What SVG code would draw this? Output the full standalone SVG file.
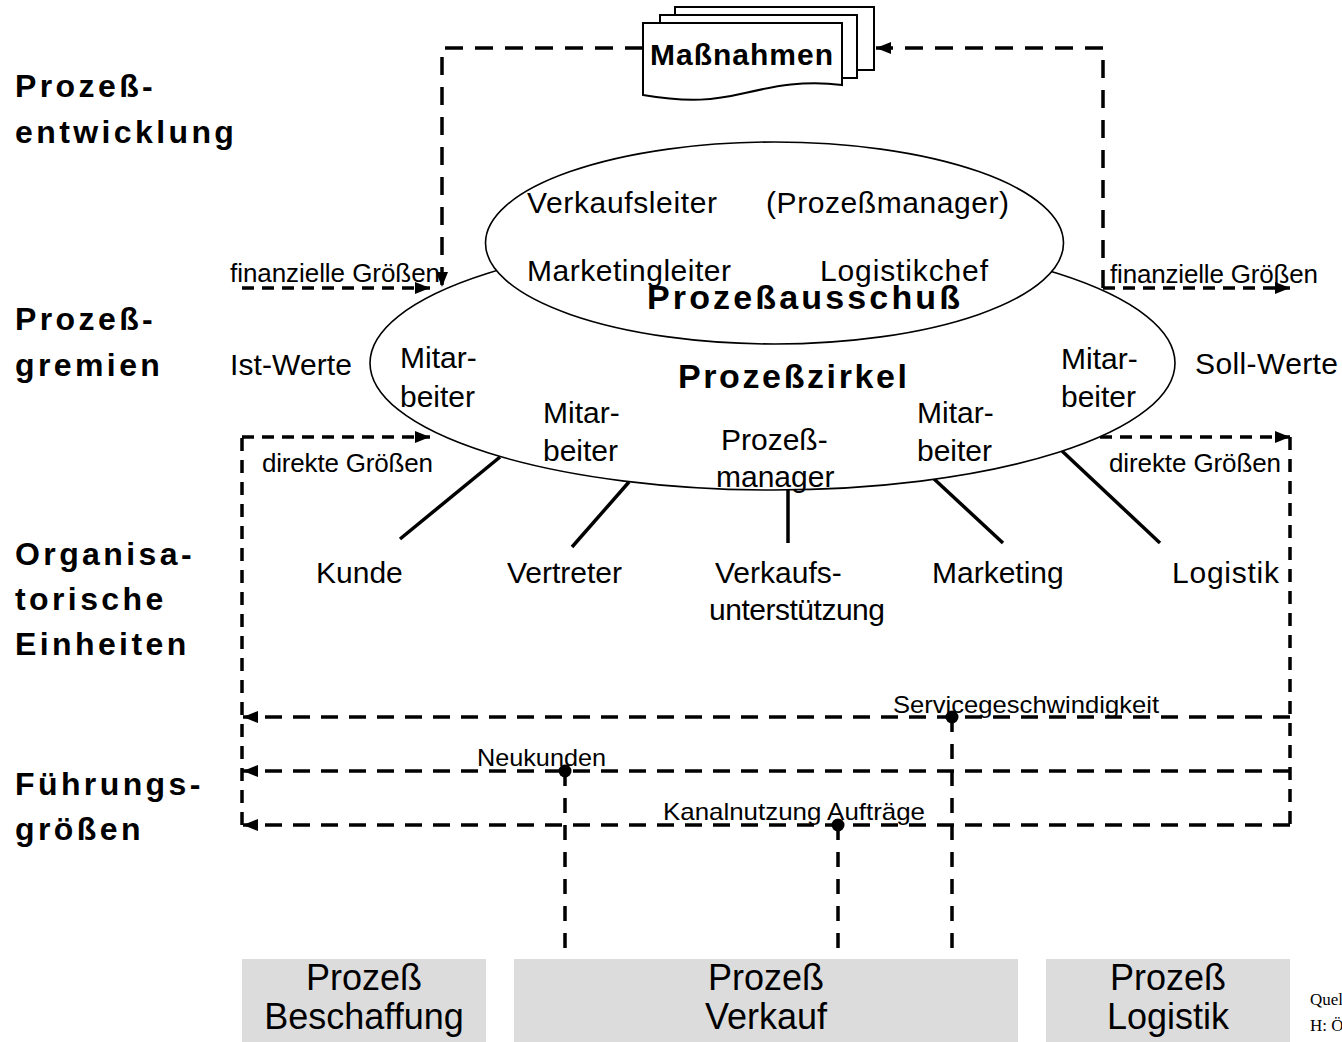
<svg xmlns="http://www.w3.org/2000/svg" width="1342" height="1042" viewBox="0 0 1342 1042">
<style>
text{font-family:"Liberation Sans",Arial,Helvetica,sans-serif;fill:#000}
.m{font-size:30px}
.s{font-size:26px}
.x{font-size:24px}
.b{font-size:30px;font-weight:bold}
.bb{font-size:34px;font-weight:bold}
.lb{font-size:32px;font-weight:bold;letter-spacing:3.4px}
.p{font-size:36px;text-anchor:middle}
.q{font-family:"Liberation Serif","Times New Roman",serif;font-size:17px}
.d1{fill:none;stroke:#000;stroke-width:3.5;stroke-dasharray:18 12}
.d2{fill:none;stroke:#000;stroke-width:3.5;stroke-dasharray:17 11}
.d3{fill:none;stroke:#000;stroke-width:3.5;stroke-dasharray:12 8}
.d4{fill:none;stroke:#000;stroke-width:3.5;stroke-dasharray:13 9}
.d5{fill:none;stroke:#000;stroke-width:3.5;stroke-dasharray:15 12}
.sl{fill:none;stroke:#000;stroke-width:3.5}
.el{fill:#fff;stroke:#000;stroke-width:1.6}
.sh{fill:#fff;stroke:#000;stroke-width:2}
.box{fill:#dcdcdc}
</style>
<defs>
<marker id="arr" viewBox="0 0 15 12" refX="15" refY="6" markerWidth="15" markerHeight="12" markerUnits="userSpaceOnUse" orient="auto">
<path d="M0,0 L15,6 L0,12 Z" fill="#000"/>
</marker>
</defs>

<g id="connectors">
<path class="d1" d="M643,48 H442 V287" marker-end="url(#arr)"/>
<path class="d1" d="M1103,288 V48 H876" marker-end="url(#arr)"/>
<path class="d3" d="M1103,288 H1290" marker-end="url(#arr)"/>
<path class="d3" d="M242,288 H430" marker-end="url(#arr)"/>
<path class="d4" d="M242,825 V437"/>
<path class="d3" d="M242,437 H430" marker-end="url(#arr)"/>
<path class="d3" d="M1100,437 H1290" marker-end="url(#arr)"/>
<path class="d4" d="M1290,437 V825"/>
<path class="d2" d="M1290,717 H243" marker-end="url(#arr)"/>
<path class="d2" d="M1290,771 H243" marker-end="url(#arr)"/>
<path class="d2" d="M1290,825 H243" marker-end="url(#arr)"/>
<path class="d5" d="M952,717 V958"/>
<path class="d5" d="M565,771 V958"/>
<path class="d5" d="M838,825 V958"/>
<circle cx="952" cy="717" r="6.5"/>
<circle cx="565" cy="771" r="6.5"/>
<circle cx="838" cy="825" r="6.5"/>
<path class="sl" d="M500,457 L400,539"/>
<path class="sl" d="M629,482 L572,547"/>
<path class="sl" d="M788,490 V543"/>
<path class="sl" d="M933,478 L1003,543"/>
<path class="sl" d="M1062,451 L1160,543"/>
</g>

<g id="level-labels">
<text class="lb" x="15" y="97">Prozeß-</text>
<text class="lb" x="15" y="143">entwicklung</text>
<text class="lb" x="15" y="330">Prozeß-</text>
<text class="lb" x="15" y="376">gremien</text>
<text class="lb" x="15" y="565">Organisa-</text>
<text class="lb" x="15" y="610">torische</text>
<text class="lb" x="15" y="655">Einheiten</text>
<text class="lb" x="15" y="795">Führungs-</text>
<text class="lb" x="15" y="840">größen</text>
</g>

<g id="massnahmen">
<rect class="sh" x="675" y="7" width="199" height="63"/>
<rect class="sh" x="660" y="15" width="197" height="63"/>
<path class="sh" d="M643,23 H842 V85 C805,80 775,86 745,93 C715,100 690,103 643,95 Z"/>
<text class="b" x="650" y="65" textLength="183">Maßnahmen</text>
</g>

<g id="prozesszirkel">
<ellipse class="el" cx="772.5" cy="363" rx="402.5" ry="127"/>
</g>

<g id="prozessausschuss">
<ellipse class="el" cx="774.5" cy="243" rx="289" ry="101"/>
<text class="m" x="527" y="213" textLength="190">Verkaufsleiter</text>
<text class="m" x="766" y="213" textLength="243">(Prozeßmanager)</text>
<text class="m" x="527" y="281" textLength="204">Marketingleiter</text>
<text class="m" x="820" y="281" textLength="168">Logistikchef</text>
<text class="bb" x="647" y="309" textLength="313">Prozeßausschuß</text>
</g>

<g id="prozesszirkel-labels">
<text class="bb" x="678" y="388" textLength="229">Prozeßzirkel</text>
<text class="m" x="400" y="368">Mitar-</text>
<text class="m" x="400" y="407">beiter</text>
<text class="m" x="543" y="423">Mitar-</text>
<text class="m" x="543" y="461">beiter</text>
<text class="m" x="721" y="450">Prozeß-</text>
<text class="m" x="716" y="487">manager</text>
<text class="m" x="917" y="423">Mitar-</text>
<text class="m" x="917" y="461">beiter</text>
<text class="m" x="1061" y="369">Mitar-</text>
<text class="m" x="1061" y="407">beiter</text>
</g>

<g id="werte">
<text class="m" x="230" y="375" textLength="122">Ist-Werte</text>
<text class="m" x="1195" y="374" textLength="143">Soll-Werte</text>
</g>

<g id="groessen-labels">
<text class="s" x="230" y="282" textLength="210">finanzielle Größen</text>
<text class="s" x="1110" y="283" textLength="208">finanzielle Größen</text>
<text class="s" x="262" y="472" textLength="171">direkte Größen</text>
<text class="s" x="1109" y="472" textLength="172">direkte Größen</text>
</g>

<g id="einheiten">
<text class="m" x="316" y="583">Kunde</text>
<text class="m" x="507" y="583">Vertreter</text>
<text class="m" x="715" y="583">Verkaufs-</text>
<text class="m" x="709" y="620" textLength="176">unterstützung</text>
<text class="m" x="932" y="583">Marketing</text>
<text class="m" x="1172" y="583" textLength="107">Logistik</text>
</g>

<g id="fuehrungsgroessen">
<text class="x" x="893" y="713" textLength="266" lengthAdjust="spacingAndGlyphs">Servicegeschwindigkeit</text>
<text class="x" x="477" y="766" textLength="129" lengthAdjust="spacingAndGlyphs">Neukunden</text>
<text class="x" x="663" y="820" textLength="262" lengthAdjust="spacingAndGlyphs">Kanalnutzung Aufträge</text>
</g>

<g id="prozess-beschaffung">
<rect class="box" x="242" y="959" width="244" height="83"/>
<text class="p" x="364" y="990">Prozeß</text>
<text class="p" x="364" y="1029">Beschaffung</text>
</g>
<g id="prozess-verkauf">
<rect class="box" x="514" y="959" width="504" height="83"/>
<text class="p" x="766" y="990">Prozeß</text>
<text class="p" x="766" y="1029">Verkauf</text>
</g>
<g id="prozess-logistik">
<rect class="box" x="1046" y="959" width="244" height="83"/>
<text class="p" x="1168" y="990">Prozeß</text>
<text class="p" x="1168" y="1029">Logistik</text>
</g>

<g id="quelle">
<text class="q" x="1310" y="1005">Quel</text>
<text class="q" x="1310" y="1031">H: Ö</text>
</g>
</svg>
